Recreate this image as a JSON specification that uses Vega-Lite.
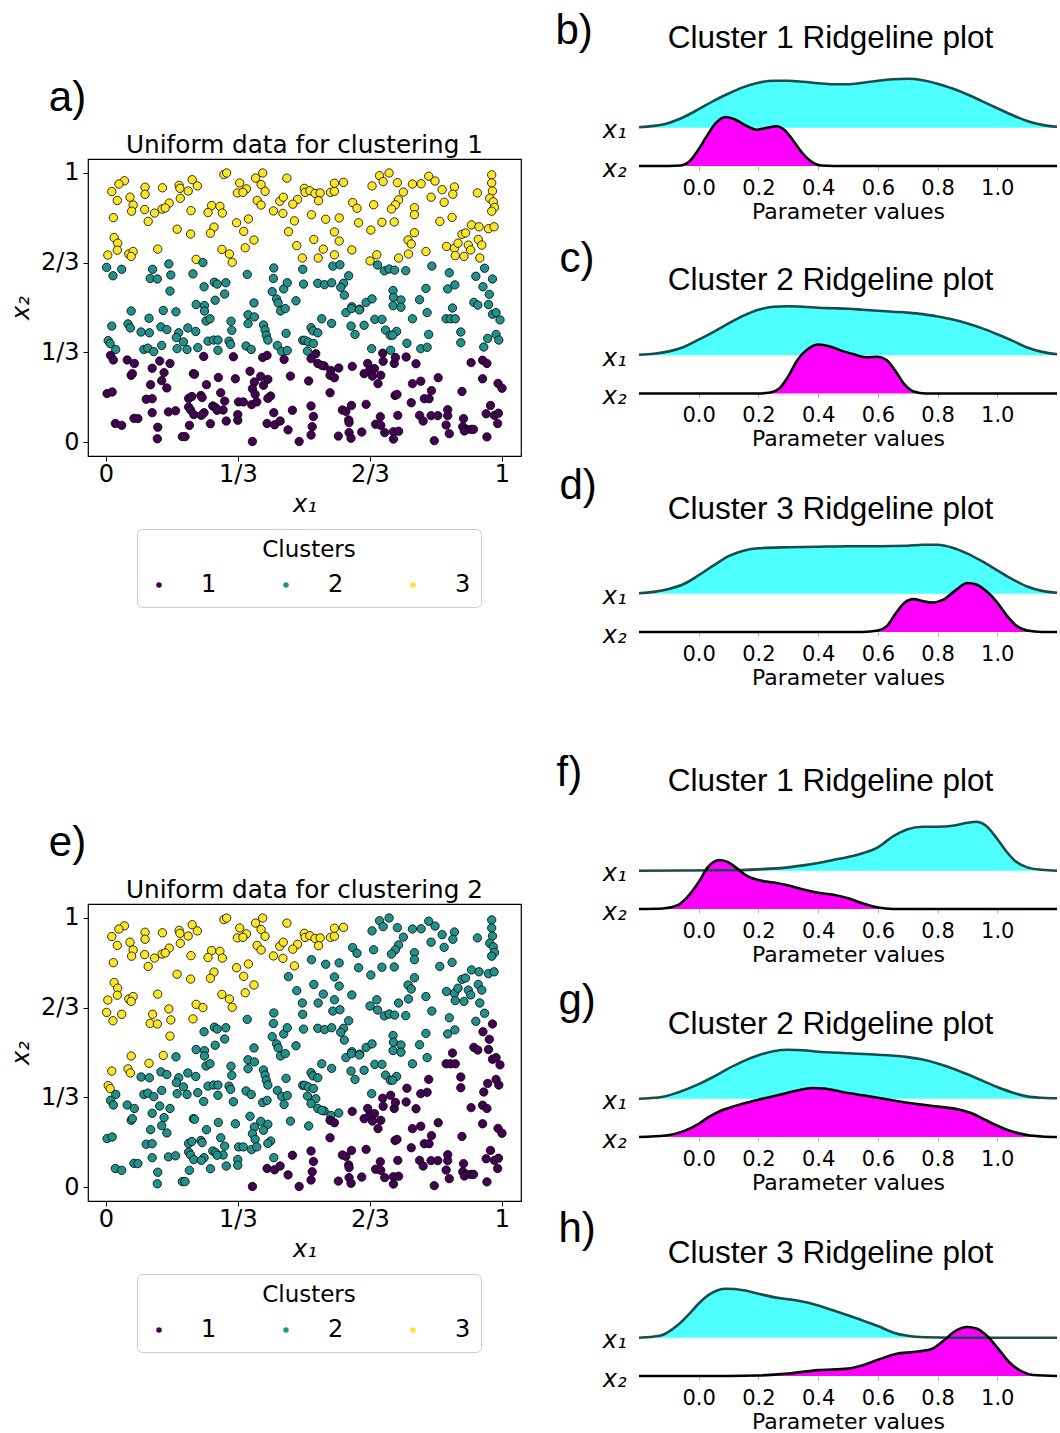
{
"$schema": "https://vega.github.io/schema/vega-lite/v6.json",
"background": "white",
"padding": {"left": 8, "top": 9, "right": 0, "bottom": 0},
"config": {
  "view": {"stroke": null},
  "font": "DejaVu Sans",
  "axis": {"grid": false, "labelColor": "black", "titleColor": "black", "labelFont": "DejaVu Sans", "titleFont": "DejaVu Sans", "titleFontWeight": "normal"},
  "title": {"color": "black", "fontWeight": "normal"},
  "legend": {"labelFont": "DejaVu Sans", "titleFont": "DejaVu Sans", "labelColor": "black", "titleColor": "black"}
},
"datasets": {
"pts": [
{"x1":0.298,"x2":0.994,"c1":3,"c2":3},{"x1":0.305,"x2":1.0,"c1":3,"c2":3},{"x1":0.396,"x2":1.0,"c1":3,"c2":3},{"x1":0.378,"x2":0.981,"c1":3,"c2":3},{"x1":0.457,"x2":0.981,"c1":3,"c2":3},{"x1":0.047,"x2":0.971,"c1":3,"c2":3},{"x1":0.033,"x2":0.959,"c1":3,"c2":3},{"x1":0.015,"x2":0.931,"c1":3,"c2":3},{"x1":0.099,"x2":0.947,"c1":3,"c2":3},{"x1":0.099,"x2":0.921,"c1":3,"c2":3},
{"x1":0.143,"x2":0.945,"c1":3,"c2":3},{"x1":0.185,"x2":0.954,"c1":3,"c2":3},{"x1":0.187,"x2":0.943,"c1":3,"c2":3},{"x1":0.218,"x2":0.975,"c1":3,"c2":3},{"x1":0.231,"x2":0.952,"c1":3,"c2":3},{"x1":0.208,"x2":0.933,"c1":3,"c2":3},{"x1":0.338,"x2":0.963,"c1":3,"c2":3},{"x1":0.355,"x2":0.941,"c1":3,"c2":3},{"x1":0.332,"x2":0.926,"c1":3,"c2":3},{"x1":0.346,"x2":0.928,"c1":3,"c2":3},
{"x1":0.392,"x2":0.957,"c1":3,"c2":3},{"x1":0.402,"x2":0.932,"c1":3,"c2":3},{"x1":0.501,"x2":0.943,"c1":3,"c2":3},{"x1":0.061,"x2":0.91,"c1":3,"c2":3},{"x1":0.029,"x2":0.898,"c1":3,"c2":3},{"x1":0.069,"x2":0.881,"c1":3,"c2":3},{"x1":0.065,"x2":0.858,"c1":3,"c2":3},{"x1":0.098,"x2":0.864,"c1":3,"c2":3},{"x1":0.16,"x2":0.888,"c1":3,"c2":3},{"x1":0.142,"x2":0.866,"c1":3,"c2":3},
{"x1":0.15,"x2":0.87,"c1":3,"c2":3},{"x1":0.123,"x2":0.851,"c1":3,"c2":3},{"x1":0.107,"x2":0.82,"c1":3,"c2":3},{"x1":0.188,"x2":0.906,"c1":3,"c2":3},{"x1":0.215,"x2":0.86,"c1":3,"c2":3},{"x1":0.267,"x2":0.879,"c1":3,"c2":3},{"x1":0.288,"x2":0.876,"c1":3,"c2":3},{"x1":0.258,"x2":0.853,"c1":3,"c2":3},{"x1":0.294,"x2":0.851,"c1":3,"c2":3},{"x1":0.382,"x2":0.898,"c1":3,"c2":3},
{"x1":0.392,"x2":0.881,"c1":3,"c2":3},{"x1":0.439,"x2":0.895,"c1":3,"c2":3},{"x1":0.448,"x2":0.91,"c1":3,"c2":3},{"x1":0.484,"x2":0.902,"c1":3,"c2":3},{"x1":0.472,"x2":0.884,"c1":3,"c2":3},{"x1":0.423,"x2":0.859,"c1":3,"c2":3},{"x1":0.447,"x2":0.85,"c1":3,"c2":3},{"x1":0.019,"x2":0.834,"c1":3,"c2":3},{"x1":0.476,"x2":0.822,"c1":3,"c2":3},{"x1":0.33,"x2":0.815,"c1":3,"c2":3},
{"x1":0.36,"x2":0.829,"c1":3,"c2":3},{"x1":0.273,"x2":0.799,"c1":3,"c2":3},{"x1":0.264,"x2":0.776,"c1":3,"c2":3},{"x1":0.18,"x2":0.791,"c1":3,"c2":3},{"x1":0.214,"x2":0.773,"c1":3,"c2":3},{"x1":0.348,"x2":0.783,"c1":3,"c2":3},{"x1":0.461,"x2":0.782,"c1":3,"c2":2},{"x1":0.374,"x2":0.751,"c1":3,"c2":3},{"x1":0.021,"x2":0.76,"c1":3,"c2":3},{"x1":0.03,"x2":0.739,"c1":3,"c2":3},
{"x1":0.029,"x2":0.713,"c1":3,"c2":3},{"x1":0.005,"x2":0.695,"c1":3,"c2":3},{"x1":0.058,"x2":0.699,"c1":3,"c2":3},{"x1":0.069,"x2":0.708,"c1":3,"c2":3},{"x1":0.064,"x2":0.69,"c1":3,"c2":3},{"x1":0.131,"x2":0.717,"c1":3,"c2":3},{"x1":0.293,"x2":0.716,"c1":3,"c2":3},{"x1":0.312,"x2":0.699,"c1":3,"c2":3},{"x1":0.319,"x2":0.668,"c1":3,"c2":3},{"x1":0.352,"x2":0.722,"c1":3,"c2":3},
{"x1":0.482,"x2":0.73,"c1":3,"c2":2},{"x1":0.496,"x2":0.684,"c1":3,"c2":2},{"x1":0.228,"x2":0.679,"c1":3,"c2":3},
{"x1":0.002,"x2":0.649,"c1":2,"c2":3},{"x1":0.018,"x2":0.618,"c1":2,"c2":3},{"x1":0.04,"x2":0.642,"c1":2,"c2":3},{"x1":0.118,"x2":0.642,"c1":2,"c2":3},{"x1":0.112,"x2":0.608,"c1":2,"c2":3},{"x1":0.13,"x2":0.606,"c1":2,"c2":3},{"x1":0.159,"x2":0.662,"c1":2,"c2":3},{"x1":0.164,"x2":0.621,"c1":2,"c2":3},{"x1":0.162,"x2":0.561,"c1":2,"c2":3},{"x1":0.22,"x2":0.625,"c1":2,"c2":3},
{"x1":0.245,"x2":0.667,"c1":2,"c2":3},{"x1":0.248,"x2":0.577,"c1":2,"c2":2},{"x1":0.274,"x2":0.594,"c1":2,"c2":2},{"x1":0.281,"x2":0.587,"c1":2,"c2":2},{"x1":0.303,"x2":0.592,"c1":2,"c2":2},{"x1":0.3,"x2":0.55,"c1":2,"c2":2},{"x1":0.276,"x2":0.527,"c1":2,"c2":2},{"x1":0.357,"x2":0.623,"c1":2,"c2":2},{"x1":0.424,"x2":0.647,"c1":2,"c2":2},{"x1":0.423,"x2":0.608,"c1":2,"c2":2},
{"x1":0.449,"x2":0.569,"c1":2,"c2":2},{"x1":0.458,"x2":0.592,"c1":2,"c2":2},{"x1":0.42,"x2":0.559,"c1":2,"c2":2},{"x1":0.431,"x2":0.532,"c1":2,"c2":2},{"x1":0.435,"x2":0.517,"c1":2,"c2":2},{"x1":0.48,"x2":0.525,"c1":2,"c2":2},{"x1":0.497,"x2":0.642,"c1":2,"c2":2},{"x1":0.499,"x2":0.587,"c1":2,"c2":2},{"x1":0.374,"x2":0.517,"c1":2,"c2":2},{"x1":0.228,"x2":0.511,"c1":2,"c2":2},
{"x1":0.249,"x2":0.507,"c1":2,"c2":2},
{"x1":0.064,"x2":0.487,"c1":2,"c2":3},{"x1":0.145,"x2":0.489,"c1":2,"c2":3},{"x1":0.177,"x2":0.484,"c1":2,"c2":2},{"x1":0.249,"x2":0.487,"c1":2,"c2":2},{"x1":0.253,"x2":0.45,"c1":2,"c2":2},{"x1":0.263,"x2":0.458,"c1":2,"c2":2},{"x1":0.109,"x2":0.46,"c1":2,"c2":3},{"x1":0.015,"x2":0.431,"c1":2,"c2":3},{"x1":0.056,"x2":0.439,"c1":2,"c2":3},{"x1":0.062,"x2":0.424,"c1":2,"c2":3},
{"x1":0.089,"x2":0.409,"c1":2,"c2":2},{"x1":0.11,"x2":0.406,"c1":2,"c2":2},{"x1":0.139,"x2":0.428,"c1":2,"c2":2},{"x1":0.154,"x2":0.418,"c1":2,"c2":2},{"x1":0.184,"x2":0.406,"c1":2,"c2":2},{"x1":0.178,"x2":0.388,"c1":2,"c2":2},{"x1":0.18,"x2":0.347,"c1":2,"c2":2},{"x1":0.207,"x2":0.424,"c1":2,"c2":2},{"x1":0.227,"x2":0.411,"c1":2,"c2":2},{"x1":0.196,"x2":0.372,"c1":2,"c2":2},
{"x1":0.205,"x2":0.344,"c1":2,"c2":2},{"x1":0.232,"x2":0.351,"c1":2,"c2":2},{"x1":0.006,"x2":0.377,"c1":2,"c2":3},{"x1":0.011,"x2":0.366,"c1":2,"c2":3},{"x1":0.025,"x2":0.344,"c1":2,"c2":2},{"x1":0.096,"x2":0.344,"c1":2,"c2":2},{"x1":0.106,"x2":0.349,"c1":2,"c2":2},{"x1":0.121,"x2":0.336,"c1":2,"c2":2},{"x1":0.141,"x2":0.359,"c1":2,"c2":2},{"x1":0.258,"x2":0.375,"c1":2,"c2":2},
{"x1":0.272,"x2":0.379,"c1":2,"c2":2},{"x1":0.283,"x2":0.379,"c1":2,"c2":2},{"x1":0.283,"x2":0.341,"c1":2,"c2":2},{"x1":0.311,"x2":0.375,"c1":2,"c2":2},{"x1":0.315,"x2":0.363,"c1":2,"c2":2},{"x1":0.318,"x2":0.415,"c1":2,"c2":2},{"x1":0.316,"x2":0.449,"c1":2,"c2":2},{"x1":0.359,"x2":0.473,"c1":2,"c2":2},{"x1":0.375,"x2":0.465,"c1":2,"c2":2},{"x1":0.359,"x2":0.44,"c1":2,"c2":2},
{"x1":0.398,"x2":0.435,"c1":2,"c2":2},{"x1":0.402,"x2":0.416,"c1":2,"c2":2},{"x1":0.405,"x2":0.397,"c1":2,"c2":2},{"x1":0.409,"x2":0.379,"c1":2,"c2":2},{"x1":0.354,"x2":0.357,"c1":2,"c2":2},{"x1":0.367,"x2":0.344,"c1":2,"c2":2},{"x1":0.433,"x2":0.359,"c1":2,"c2":2},{"x1":0.444,"x2":0.337,"c1":2,"c2":2},{"x1":0.458,"x2":0.34,"c1":2,"c2":2},{"x1":0.455,"x2":0.404,"c1":2,"c2":2},
{"x1":0.497,"x2":0.378,"c1":2,"c2":2},{"x1":0.441,"x2":0.487,"c1":2,"c2":2},{"x1":0.453,"x2":0.496,"c1":2,"c2":2},
{"x1":0.012,"x2":0.322,"c1":1,"c2":2},{"x1":0.019,"x2":0.305,"c1":1,"c2":2},{"x1":0.054,"x2":0.305,"c1":1,"c2":2},{"x1":0.072,"x2":0.292,"c1":1,"c2":2},{"x1":0.117,"x2":0.274,"c1":1,"c2":2},{"x1":0.136,"x2":0.301,"c1":1,"c2":2},{"x1":0.162,"x2":0.292,"c1":1,"c2":2},{"x1":0.064,"x2":0.248,"c1":1,"c2":2},{"x1":0.067,"x2":0.254,"c1":1,"c2":2},{"x1":0.147,"x2":0.258,"c1":1,"c2":2},
{"x1":0.141,"x2":0.228,"c1":1,"c2":2},{"x1":0.154,"x2":0.201,"c1":1,"c2":2},{"x1":0.113,"x2":0.213,"c1":1,"c2":2},{"x1":0.221,"x2":0.254,"c1":1,"c2":2},{"x1":0.224,"x2":0.252,"c1":1,"c2":2},{"x1":0.247,"x2":0.318,"c1":1,"c2":2},{"x1":0.322,"x2":0.317,"c1":1,"c2":2},{"x1":0.284,"x2":0.24,"c1":1,"c2":2},{"x1":0.327,"x2":0.235,"c1":1,"c2":2},{"x1":0.254,"x2":0.213,"c1":1,"c2":2},
{"x1":0.396,"x2":0.314,"c1":1,"c2":2},{"x1":0.407,"x2":0.322,"c1":1,"c2":2},{"x1":0.45,"x2":0.307,"c1":1,"c2":2},{"x1":0.364,"x2":0.263,"c1":1,"c2":2},{"x1":0.375,"x2":0.223,"c1":1,"c2":2},{"x1":0.391,"x2":0.244,"c1":1,"c2":2},{"x1":0.409,"x2":0.233,"c1":1,"c2":2},{"x1":0.398,"x2":0.211,"c1":1,"c2":2},{"x1":0.466,"x2":0.245,"c1":1,"c2":2},{"x1":0.003,"x2":0.18,"c1":1,"c2":2},
{"x1":0.016,"x2":0.186,"c1":1,"c2":2},{"x1":0.102,"x2":0.159,"c1":1,"c2":2},{"x1":0.117,"x2":0.161,"c1":1,"c2":2},{"x1":0.209,"x2":0.162,"c1":1,"c2":2},{"x1":0.217,"x2":0.169,"c1":1,"c2":2},{"x1":0.24,"x2":0.173,"c1":1,"c2":2},{"x1":0.243,"x2":0.165,"c1":1,"c2":2},{"x1":0.29,"x2":0.183,"c1":1,"c2":2},{"x1":0.37,"x2":0.198,"c1":1,"c2":2},{"x1":0.377,"x2":0.177,"c1":1,"c2":2},
{"x1":0.416,"x2":0.171,"c1":1,"c2":2},{"x1":0.409,"x2":0.162,"c1":1,"c2":2},{"x1":0.3,"x2":0.152,"c1":1,"c2":2},{"x1":0.335,"x2":0.149,"c1":1,"c2":2},{"x1":0.347,"x2":0.149,"c1":1,"c2":2},{"x1":0.209,"x2":0.13,"c1":1,"c2":2},{"x1":0.214,"x2":0.119,"c1":1,"c2":2},{"x1":0.222,"x2":0.102,"c1":1,"c2":2},{"x1":0.248,"x2":0.109,"c1":1,"c2":2},{"x1":0.241,"x2":0.099,"c1":1,"c2":2},
{"x1":0.27,"x2":0.134,"c1":1,"c2":2},{"x1":0.277,"x2":0.128,"c1":1,"c2":2},{"x1":0.296,"x2":0.119,"c1":1,"c2":2},{"x1":0.281,"x2":0.118,"c1":1,"c2":2},{"x1":0.158,"x2":0.112,"c1":1,"c2":2},{"x1":0.176,"x2":0.116,"c1":1,"c2":2},{"x1":0.117,"x2":0.109,"c1":1,"c2":2},{"x1":0.368,"x2":0.139,"c1":1,"c2":2},{"x1":0.381,"x2":0.149,"c1":1,"c2":2},{"x1":0.333,"x2":0.102,"c1":1,"c2":2},
{"x1":0.333,"x2":0.081,"c1":1,"c2":2},{"x1":0.471,"x2":0.118,"c1":1,"c2":1},{"x1":0.424,"x2":0.109,"c1":1,"c2":2},{"x1":0.024,"x2":0.069,"c1":1,"c2":2},{"x1":0.04,"x2":0.062,"c1":1,"c2":2},{"x1":0.071,"x2":0.088,"c1":1,"c2":2},{"x1":0.081,"x2":0.087,"c1":1,"c2":2},{"x1":0.131,"x2":0.055,"c1":1,"c2":2},{"x1":0.13,"x2":0.012,"c1":1,"c2":2},{"x1":0.193,"x2":0.02,"c1":1,"c2":2},
{"x1":0.2,"x2":0.02,"c1":1,"c2":2},{"x1":0.211,"x2":0.062,"c1":1,"c2":2},{"x1":0.264,"x2":0.068,"c1":1,"c2":2},{"x1":0.304,"x2":0.078,"c1":1,"c2":2},{"x1":0.407,"x2":0.069,"c1":1,"c2":1},{"x1":0.426,"x2":0.064,"c1":1,"c2":1},{"x1":0.44,"x2":0.078,"c1":1,"c2":1},{"x1":0.46,"x2":0.045,"c1":1,"c2":1},{"x1":0.37,"x2":0.002,"c1":1,"c2":1},{"x1":0.488,"x2":0.002,"c1":1,"c2":1},
{"x1":0.503,"x2":0.928,"c1":3,"c2":3},{"x1":0.515,"x2":0.934,"c1":3,"c2":3},{"x1":0.528,"x2":0.924,"c1":3,"c2":3},{"x1":0.541,"x2":0.926,"c1":3,"c2":3},{"x1":0.537,"x2":0.897,"c1":3,"c2":3},{"x1":0.567,"x2":0.928,"c1":3,"c2":3},{"x1":0.577,"x2":0.932,"c1":3,"c2":3},{"x1":0.577,"x2":0.962,"c1":3,"c2":3},{"x1":0.6,"x2":0.965,"c1":3,"c2":3},{"x1":0.691,"x2":0.99,"c1":3,"c2":2},
{"x1":0.7,"x2":0.968,"c1":3,"c2":2},{"x1":0.715,"x2":1.0,"c1":3,"c2":2},{"x1":0.672,"x2":0.952,"c1":3,"c2":2},{"x1":0.736,"x2":0.964,"c1":3,"c2":2},{"x1":0.815,"x2":0.988,"c1":3,"c2":2},{"x1":0.831,"x2":0.97,"c1":3,"c2":2},{"x1":0.774,"x2":0.959,"c1":3,"c2":2},{"x1":0.796,"x2":0.96,"c1":3,"c2":2},{"x1":0.623,"x2":0.89,"c1":3,"c2":2},{"x1":0.634,"x2":0.869,"c1":3,"c2":2},
{"x1":0.676,"x2":0.882,"c1":3,"c2":2},{"x1":0.751,"x2":0.929,"c1":3,"c2":2},{"x1":0.739,"x2":0.9,"c1":3,"c2":2},{"x1":0.731,"x2":0.882,"c1":3,"c2":2},{"x1":0.721,"x2":0.866,"c1":3,"c2":2},{"x1":0.779,"x2":0.871,"c1":3,"c2":2},{"x1":0.779,"x2":0.845,"c1":3,"c2":2},{"x1":0.821,"x2":0.91,"c1":3,"c2":2},{"x1":0.849,"x2":0.938,"c1":3,"c2":2},{"x1":0.88,"x2":0.948,"c1":3,"c2":2},
{"x1":0.876,"x2":0.921,"c1":3,"c2":2},{"x1":0.854,"x2":0.891,"c1":3,"c2":2},{"x1":0.938,"x2":0.926,"c1":3,"c2":2},{"x1":0.974,"x2":0.993,"c1":3,"c2":2},{"x1":0.974,"x2":0.963,"c1":3,"c2":2},{"x1":0.976,"x2":0.933,"c1":3,"c2":2},{"x1":0.969,"x2":0.906,"c1":3,"c2":2},{"x1":0.978,"x2":0.893,"c1":3,"c2":2},{"x1":0.981,"x2":0.872,"c1":3,"c2":2},{"x1":0.974,"x2":0.858,"c1":3,"c2":2},
{"x1":0.519,"x2":0.845,"c1":3,"c2":2},{"x1":0.555,"x2":0.828,"c1":3,"c2":2},{"x1":0.589,"x2":0.833,"c1":3,"c2":2},{"x1":0.638,"x2":0.815,"c1":3,"c2":2},{"x1":0.669,"x2":0.788,"c1":3,"c2":2},{"x1":0.697,"x2":0.817,"c1":3,"c2":2},{"x1":0.728,"x2":0.818,"c1":3,"c2":2},{"x1":0.577,"x2":0.781,"c1":3,"c2":2},{"x1":0.589,"x2":0.747,"c1":3,"c2":2},{"x1":0.525,"x2":0.753,"c1":3,"c2":2},
{"x1":0.549,"x2":0.717,"c1":3,"c2":2},{"x1":0.536,"x2":0.684,"c1":3,"c2":2},{"x1":0.577,"x2":0.696,"c1":3,"c2":2},{"x1":0.621,"x2":0.714,"c1":3,"c2":2},{"x1":0.843,"x2":0.82,"c1":3,"c2":2},{"x1":0.874,"x2":0.835,"c1":3,"c2":2},{"x1":0.779,"x2":0.778,"c1":3,"c2":2},{"x1":0.763,"x2":0.751,"c1":3,"c2":2},{"x1":0.771,"x2":0.736,"c1":3,"c2":2},{"x1":0.764,"x2":0.699,"c1":3,"c2":2},
{"x1":0.808,"x2":0.708,"c1":3,"c2":2},{"x1":0.684,"x2":0.696,"c1":3,"c2":2},{"x1":0.739,"x2":0.684,"c1":3,"c2":2},{"x1":0.667,"x2":0.673,"c1":3,"c2":2},{"x1":0.86,"x2":0.727,"c1":3,"c2":2},{"x1":0.88,"x2":0.72,"c1":3,"c2":2},{"x1":0.889,"x2":0.739,"c1":3,"c2":2},{"x1":0.899,"x2":0.772,"c1":3,"c2":2},{"x1":0.908,"x2":0.777,"c1":3,"c2":2},{"x1":0.915,"x2":0.732,"c1":3,"c2":2},
{"x1":0.921,"x2":0.714,"c1":3,"c2":2},{"x1":0.882,"x2":0.693,"c1":3,"c2":2},{"x1":0.904,"x2":0.69,"c1":3,"c2":2},{"x1":0.923,"x2":0.807,"c1":3,"c2":2},{"x1":0.942,"x2":0.8,"c1":3,"c2":2},{"x1":0.966,"x2":0.793,"c1":3,"c2":2},{"x1":0.98,"x2":0.8,"c1":3,"c2":2},{"x1":0.94,"x2":0.753,"c1":3,"c2":2},{"x1":0.949,"x2":0.732,"c1":3,"c2":2},{"x1":0.944,"x2":0.684,"c1":3,"c2":2},
{"x1":0.573,"x2":0.654,"c1":2,"c2":2},{"x1":0.591,"x2":0.659,"c1":2,"c2":2},{"x1":0.686,"x2":0.658,"c1":2,"c2":2},{"x1":0.703,"x2":0.636,"c1":2,"c2":2},{"x1":0.715,"x2":0.643,"c1":2,"c2":2},{"x1":0.729,"x2":0.639,"c1":2,"c2":2},{"x1":0.757,"x2":0.637,"c1":2,"c2":2},{"x1":0.823,"x2":0.654,"c1":2,"c2":2},{"x1":0.613,"x2":0.618,"c1":2,"c2":2},{"x1":0.6,"x2":0.59,"c1":2,"c2":2},
{"x1":0.593,"x2":0.575,"c1":2,"c2":2},{"x1":0.602,"x2":0.546,"c1":2,"c2":2},{"x1":0.535,"x2":0.59,"c1":2,"c2":2},{"x1":0.552,"x2":0.585,"c1":2,"c2":2},{"x1":0.57,"x2":0.592,"c1":2,"c2":2},{"x1":0.867,"x2":0.629,"c1":2,"c2":2},{"x1":0.863,"x2":0.569,"c1":2,"c2":2},{"x1":0.881,"x2":0.584,"c1":2,"c2":2},{"x1":0.934,"x2":0.616,"c1":2,"c2":2},{"x1":0.956,"x2":0.646,"c1":2,"c2":2},
{"x1":0.976,"x2":0.606,"c1":2,"c2":1},{"x1":0.952,"x2":0.577,"c1":2,"c2":1},{"x1":0.968,"x2":0.549,"c1":2,"c2":1},{"x1":0.808,"x2":0.571,"c1":2,"c2":2},{"x1":0.792,"x2":0.529,"c1":2,"c2":2},{"x1":0.725,"x2":0.563,"c1":2,"c2":2},{"x1":0.726,"x2":0.538,"c1":2,"c2":2},{"x1":0.745,"x2":0.528,"c1":2,"c2":2},{"x1":0.657,"x2":0.519,"c1":2,"c2":2},{"x1":0.672,"x2":0.532,"c1":2,"c2":2},
{"x1":0.621,"x2":0.503,"c1":2,"c2":2},{"x1":0.641,"x2":0.494,"c1":2,"c2":2},{"x1":0.725,"x2":0.507,"c1":2,"c2":2},{"x1":0.745,"x2":0.501,"c1":2,"c2":2},{"x1":0.875,"x2":0.498,"c1":2,"c2":1},{"x1":0.929,"x2":0.519,"c1":2,"c2":1},{"x1":0.939,"x2":0.509,"c1":2,"c2":1},{"x1":0.966,"x2":0.511,"c1":2,"c2":1},
{"x1":0.606,"x2":0.481,"c1":2,"c2":2},{"x1":0.62,"x2":0.496,"c1":2,"c2":2},{"x1":0.64,"x2":0.491,"c1":2,"c2":2},{"x1":0.811,"x2":0.481,"c1":2,"c2":2},{"x1":0.976,"x2":0.475,"c1":2,"c2":1},{"x1":0.985,"x2":0.481,"c1":2,"c2":1},{"x1":0.995,"x2":0.454,"c1":2,"c2":1},{"x1":0.859,"x2":0.458,"c1":2,"c2":1},{"x1":0.87,"x2":0.458,"c1":2,"c2":1},{"x1":0.882,"x2":0.458,"c1":2,"c2":1},
{"x1":0.774,"x2":0.458,"c1":2,"c2":2},{"x1":0.679,"x2":0.456,"c1":2,"c2":2},{"x1":0.697,"x2":0.456,"c1":2,"c2":2},{"x1":0.545,"x2":0.458,"c1":2,"c2":2},{"x1":0.57,"x2":0.441,"c1":2,"c2":2},{"x1":0.518,"x2":0.425,"c1":2,"c2":2},{"x1":0.523,"x2":0.413,"c1":2,"c2":2},{"x1":0.535,"x2":0.406,"c1":2,"c2":2},{"x1":0.619,"x2":0.431,"c1":2,"c2":2},{"x1":0.629,"x2":0.4,"c1":2,"c2":2},
{"x1":0.652,"x2":0.434,"c1":2,"c2":2},{"x1":0.706,"x2":0.416,"c1":2,"c2":2},{"x1":0.718,"x2":0.397,"c1":2,"c2":2},{"x1":0.734,"x2":0.411,"c1":2,"c2":2},{"x1":0.724,"x2":0.397,"c1":2,"c2":2},{"x1":0.815,"x2":0.4,"c1":2,"c2":1},{"x1":0.896,"x2":0.409,"c1":2,"c2":1},{"x1":0.896,"x2":0.369,"c1":2,"c2":1},{"x1":0.964,"x2":0.385,"c1":2,"c2":1},{"x1":0.985,"x2":0.4,"c1":2,"c2":1},
{"x1":0.992,"x2":0.379,"c1":2,"c2":1},{"x1":0.954,"x2":0.353,"c1":2,"c2":1},{"x1":0.502,"x2":0.378,"c1":2,"c2":2},{"x1":0.511,"x2":0.372,"c1":2,"c2":2},{"x1":0.524,"x2":0.366,"c1":2,"c2":2},{"x1":0.509,"x2":0.338,"c1":2,"c2":2},{"x1":0.671,"x2":0.347,"c1":2,"c2":2},{"x1":0.719,"x2":0.341,"c1":2,"c2":1},{"x1":0.76,"x2":0.367,"c1":2,"c2":1},{"x1":0.795,"x2":0.347,"c1":2,"c2":1},
{"x1":0.811,"x2":0.352,"c1":2,"c2":1},
{"x1":0.53,"x2":0.328,"c1":1,"c2":2},{"x1":0.518,"x2":0.31,"c1":1,"c2":2},{"x1":0.535,"x2":0.292,"c1":1,"c2":2},{"x1":0.551,"x2":0.283,"c1":1,"c2":2},{"x1":0.545,"x2":0.285,"c1":1,"c2":2},{"x1":0.568,"x2":0.266,"c1":1,"c2":2},{"x1":0.566,"x2":0.248,"c1":1,"c2":1},{"x1":0.577,"x2":0.239,"c1":1,"c2":1},{"x1":0.588,"x2":0.275,"c1":1,"c2":2},{"x1":0.622,"x2":0.281,"c1":1,"c2":1},
{"x1":0.661,"x2":0.292,"c1":1,"c2":1},{"x1":0.652,"x2":0.254,"c1":1,"c2":1},{"x1":0.665,"x2":0.264,"c1":1,"c2":1},{"x1":0.678,"x2":0.273,"c1":1,"c2":1},{"x1":0.673,"x2":0.245,"c1":1,"c2":1},{"x1":0.694,"x2":0.248,"c1":1,"c2":1},{"x1":0.687,"x2":0.217,"c1":1,"c2":1},{"x1":0.699,"x2":0.33,"c1":1,"c2":1},{"x1":0.7,"x2":0.3,"c1":1,"c2":1},{"x1":0.728,"x2":0.292,"c1":1,"c2":1},
{"x1":0.731,"x2":0.314,"c1":1,"c2":1},{"x1":0.758,"x2":0.316,"c1":1,"c2":1},{"x1":0.783,"x2":0.291,"c1":1,"c2":1},{"x1":0.512,"x2":0.227,"c1":1,"c2":2},{"x1":0.566,"x2":0.183,"c1":1,"c2":1},{"x1":0.774,"x2":0.217,"c1":1,"c2":1},{"x1":0.795,"x2":0.226,"c1":1,"c2":1},{"x1":0.839,"x2":0.239,"c1":1,"c2":1},{"x1":0.73,"x2":0.173,"c1":1,"c2":1},{"x1":0.735,"x2":0.177,"c1":1,"c2":1},
{"x1":0.822,"x2":0.191,"c1":1,"c2":1},{"x1":0.804,"x2":0.161,"c1":1,"c2":1},{"x1":0.816,"x2":0.161,"c1":1,"c2":1},{"x1":0.771,"x2":0.146,"c1":1,"c2":1},{"x1":0.899,"x2":0.188,"c1":1,"c2":1},{"x1":0.922,"x2":0.295,"c1":1,"c2":1},{"x1":0.951,"x2":0.304,"c1":1,"c2":1},{"x1":0.962,"x2":0.292,"c1":1,"c2":1},{"x1":0.951,"x2":0.235,"c1":1,"c2":1},{"x1":0.99,"x2":0.218,"c1":1,"c2":1},
{"x1":1.0,"x2":0.2,"c1":1,"c2":1},{"x1":0.518,"x2":0.134,"c1":1,"c2":1},{"x1":0.524,"x2":0.095,"c1":1,"c2":1},{"x1":0.521,"x2":0.057,"c1":1,"c2":1},{"x1":0.518,"x2":0.026,"c1":1,"c2":1},{"x1":0.597,"x2":0.119,"c1":1,"c2":1},{"x1":0.606,"x2":0.114,"c1":1,"c2":1},{"x1":0.62,"x2":0.136,"c1":1,"c2":1},{"x1":0.657,"x2":0.14,"c1":1,"c2":1},{"x1":0.613,"x2":0.082,"c1":1,"c2":1},
{"x1":0.614,"x2":0.072,"c1":1,"c2":1},{"x1":0.614,"x2":0.035,"c1":1,"c2":1},{"x1":0.619,"x2":0.014,"c1":1,"c2":1},{"x1":0.587,"x2":0.022,"c1":1,"c2":1},{"x1":0.646,"x2":0.037,"c1":1,"c2":1},{"x1":0.693,"x2":0.094,"c1":1,"c2":1},{"x1":0.681,"x2":0.066,"c1":1,"c2":1},{"x1":0.694,"x2":0.062,"c1":1,"c2":1},{"x1":0.704,"x2":0.035,"c1":1,"c2":1},{"x1":0.726,"x2":0.038,"c1":1,"c2":1},
{"x1":0.739,"x2":0.04,"c1":1,"c2":1},{"x1":0.726,"x2":0.011,"c1":1,"c2":1},{"x1":0.737,"x2":0.099,"c1":1,"c2":1},{"x1":0.792,"x2":0.099,"c1":1,"c2":1},{"x1":0.801,"x2":0.078,"c1":1,"c2":1},{"x1":0.821,"x2":0.098,"c1":1,"c2":1},{"x1":0.838,"x2":0.098,"c1":1,"c2":1},{"x1":0.863,"x2":0.12,"c1":1,"c2":1},{"x1":0.863,"x2":0.098,"c1":1,"c2":1},{"x1":0.859,"x2":0.063,"c1":1,"c2":1},
{"x1":0.867,"x2":0.031,"c1":1,"c2":1},{"x1":0.903,"x2":0.087,"c1":1,"c2":1},{"x1":0.901,"x2":0.057,"c1":1,"c2":1},{"x1":0.911,"x2":0.047,"c1":1,"c2":1},{"x1":0.905,"x2":0.041,"c1":1,"c2":1},{"x1":0.922,"x2":0.047,"c1":1,"c2":1},{"x1":0.928,"x2":0.047,"c1":1,"c2":1},{"x1":0.829,"x2":0.005,"c1":1,"c2":1},{"x1":0.971,"x2":0.136,"c1":1,"c2":1},{"x1":0.96,"x2":0.105,"c1":1,"c2":1},
{"x1":0.981,"x2":0.099,"c1":1,"c2":1},{"x1":0.991,"x2":0.107,"c1":1,"c2":1},{"x1":0.989,"x2":0.069,"c1":1,"c2":1},{"x1":0.962,"x2":0.019,"c1":1,"c2":1}
],
"ridge": [
{"p":"b","v":"x1","x":-0.2,"h":0.01},{"p":"b","v":"x1","x":-0.15,"h":0.04},{"p":"b","v":"x1","x":-0.1,"h":0.1},{"p":"b","v":"x1","x":-0.05,"h":0.22},{"p":"b","v":"x1","x":0,"h":0.38},{"p":"b","v":"x1","x":0.05,"h":0.55},{"p":"b","v":"x1","x":0.1,"h":0.7},{"p":"b","v":"x1","x":0.15,"h":0.83},{"p":"b","v":"x1","x":0.2,"h":0.92},{"p":"b","v":"x1","x":0.25,"h":0.96},{"p":"b","v":"x1","x":0.3,"h":0.96},{"p":"b","v":"x1","x":0.35,"h":0.94},{"p":"b","v":"x1","x":0.4,"h":0.91},{"p":"b","v":"x1","x":0.45,"h":0.89},{"p":"b","v":"x1","x":0.5,"h":0.89},{"p":"b","v":"x1","x":0.55,"h":0.92},{"p":"b","v":"x1","x":0.6,"h":0.96},{"p":"b","v":"x1","x":0.65,"h":0.99},{"p":"b","v":"x1","x":0.7,"h":1.0},{"p":"b","v":"x1","x":0.75,"h":0.97},{"p":"b","v":"x1","x":0.8,"h":0.9},{"p":"b","v":"x1","x":0.85,"h":0.8},{"p":"b","v":"x1","x":0.9,"h":0.68},{"p":"b","v":"x1","x":0.95,"h":0.54},{"p":"b","v":"x1","x":1.0,"h":0.4},{"p":"b","v":"x1","x":1.05,"h":0.26},{"p":"b","v":"x1","x":1.1,"h":0.14},{"p":"b","v":"x1","x":1.15,"h":0.06},{"p":"b","v":"x1","x":1.2,"h":0.02},
{"p":"b","v":"x2","x":-0.2,"h":0},{"p":"b","v":"x2","x":-0.1,"h":0},{"p":"b","v":"x2","x":-0.06,"h":0.01},{"p":"b","v":"x2","x":-0.03,"h":0.1},{"p":"b","v":"x2","x":0,"h":0.34},{"p":"b","v":"x2","x":0.03,"h":0.64},{"p":"b","v":"x2","x":0.055,"h":0.86},{"p":"b","v":"x2","x":0.09,"h":1.0},{"p":"b","v":"x2","x":0.125,"h":0.94},{"p":"b","v":"x2","x":0.16,"h":0.82},{"p":"b","v":"x2","x":0.195,"h":0.74},{"p":"b","v":"x2","x":0.23,"h":0.78},{"p":"b","v":"x2","x":0.26,"h":0.81},{"p":"b","v":"x2","x":0.29,"h":0.72},{"p":"b","v":"x2","x":0.315,"h":0.53},{"p":"b","v":"x2","x":0.345,"h":0.28},{"p":"b","v":"x2","x":0.375,"h":0.1},{"p":"b","v":"x2","x":0.41,"h":0.01},{"p":"b","v":"x2","x":0.45,"h":0},{"p":"b","v":"x2","x":1.2,"h":0},
{"p":"c","v":"x1","x":-0.2,"h":0.01},{"p":"c","v":"x1","x":-0.15,"h":0.03},{"p":"c","v":"x1","x":-0.1,"h":0.08},{"p":"c","v":"x1","x":-0.05,"h":0.17},{"p":"c","v":"x1","x":0,"h":0.32},{"p":"c","v":"x1","x":0.05,"h":0.48},{"p":"c","v":"x1","x":0.1,"h":0.65},{"p":"c","v":"x1","x":0.15,"h":0.81},{"p":"c","v":"x1","x":0.2,"h":0.93},{"p":"c","v":"x1","x":0.25,"h":0.99},{"p":"c","v":"x1","x":0.3,"h":1.0},{"p":"c","v":"x1","x":0.35,"h":0.99},{"p":"c","v":"x1","x":0.4,"h":0.97},{"p":"c","v":"x1","x":0.45,"h":0.96},{"p":"c","v":"x1","x":0.5,"h":0.95},{"p":"c","v":"x1","x":0.55,"h":0.93},{"p":"c","v":"x1","x":0.6,"h":0.91},{"p":"c","v":"x1","x":0.65,"h":0.89},{"p":"c","v":"x1","x":0.7,"h":0.87},{"p":"c","v":"x1","x":0.75,"h":0.84},{"p":"c","v":"x1","x":0.8,"h":0.79},{"p":"c","v":"x1","x":0.85,"h":0.73},{"p":"c","v":"x1","x":0.9,"h":0.65},{"p":"c","v":"x1","x":0.95,"h":0.55},{"p":"c","v":"x1","x":1.0,"h":0.43},{"p":"c","v":"x1","x":1.05,"h":0.3},{"p":"c","v":"x1","x":1.1,"h":0.16},{"p":"c","v":"x1","x":1.15,"h":0.07},{"p":"c","v":"x1","x":1.2,"h":0.02},
{"p":"c","v":"x2","x":-0.2,"h":0},{"p":"c","v":"x2","x":0.2,"h":0},{"p":"c","v":"x2","x":0.24,"h":0.02},{"p":"c","v":"x2","x":0.27,"h":0.1},{"p":"c","v":"x2","x":0.3,"h":0.35},{"p":"c","v":"x2","x":0.33,"h":0.68},{"p":"c","v":"x2","x":0.36,"h":0.88},{"p":"c","v":"x2","x":0.4,"h":1.0},{"p":"c","v":"x2","x":0.44,"h":0.96},{"p":"c","v":"x2","x":0.48,"h":0.87},{"p":"c","v":"x2","x":0.52,"h":0.8},{"p":"c","v":"x2","x":0.56,"h":0.74},{"p":"c","v":"x2","x":0.6,"h":0.75},{"p":"c","v":"x2","x":0.63,"h":0.68},{"p":"c","v":"x2","x":0.66,"h":0.45},{"p":"c","v":"x2","x":0.69,"h":0.18},{"p":"c","v":"x2","x":0.72,"h":0.04},{"p":"c","v":"x2","x":0.76,"h":0},{"p":"c","v":"x2","x":1.2,"h":0},
{"p":"d","v":"x1","x":-0.2,"h":0.01},{"p":"d","v":"x1","x":-0.15,"h":0.04},{"p":"d","v":"x1","x":-0.1,"h":0.1},{"p":"d","v":"x1","x":-0.05,"h":0.2},{"p":"d","v":"x1","x":0,"h":0.38},{"p":"d","v":"x1","x":0.05,"h":0.58},{"p":"d","v":"x1","x":0.1,"h":0.77},{"p":"d","v":"x1","x":0.15,"h":0.88},{"p":"d","v":"x1","x":0.2,"h":0.93},{"p":"d","v":"x1","x":0.3,"h":0.95},{"p":"d","v":"x1","x":0.4,"h":0.96},{"p":"d","v":"x1","x":0.5,"h":0.97},{"p":"d","v":"x1","x":0.6,"h":0.97},{"p":"d","v":"x1","x":0.7,"h":0.98},{"p":"d","v":"x1","x":0.75,"h":1.0},{"p":"d","v":"x1","x":0.8,"h":1.0},{"p":"d","v":"x1","x":0.85,"h":0.94},{"p":"d","v":"x1","x":0.9,"h":0.82},{"p":"d","v":"x1","x":0.95,"h":0.66},{"p":"d","v":"x1","x":1.0,"h":0.48},{"p":"d","v":"x1","x":1.05,"h":0.3},{"p":"d","v":"x1","x":1.1,"h":0.15},{"p":"d","v":"x1","x":1.15,"h":0.06},{"p":"d","v":"x1","x":1.2,"h":0.02},
{"p":"d","v":"x2","x":-0.2,"h":0},{"p":"d","v":"x2","x":0.55,"h":0},{"p":"d","v":"x2","x":0.6,"h":0.03},{"p":"d","v":"x2","x":0.63,"h":0.12},{"p":"d","v":"x2","x":0.66,"h":0.38},{"p":"d","v":"x2","x":0.69,"h":0.6},{"p":"d","v":"x2","x":0.72,"h":0.67},{"p":"d","v":"x2","x":0.75,"h":0.63},{"p":"d","v":"x2","x":0.78,"h":0.6},{"p":"d","v":"x2","x":0.82,"h":0.66},{"p":"d","v":"x2","x":0.86,"h":0.85},{"p":"d","v":"x2","x":0.9,"h":1.0},{"p":"d","v":"x2","x":0.93,"h":0.97},{"p":"d","v":"x2","x":0.96,"h":0.85},{"p":"d","v":"x2","x":1.0,"h":0.6},{"p":"d","v":"x2","x":1.03,"h":0.35},{"p":"d","v":"x2","x":1.06,"h":0.15},{"p":"d","v":"x2","x":1.1,"h":0.03},{"p":"d","v":"x2","x":1.15,"h":0},{"p":"d","v":"x2","x":1.2,"h":0},
{"p":"f","v":"x1","x":-0.2,"h":0},{"p":"f","v":"x1","x":0.1,"h":0.01},{"p":"f","v":"x1","x":0.2,"h":0.03},{"p":"f","v":"x1","x":0.3,"h":0.07},{"p":"f","v":"x1","x":0.35,"h":0.11},{"p":"f","v":"x1","x":0.4,"h":0.16},{"p":"f","v":"x1","x":0.45,"h":0.22},{"p":"f","v":"x1","x":0.5,"h":0.28},{"p":"f","v":"x1","x":0.55,"h":0.36},{"p":"f","v":"x1","x":0.6,"h":0.48},{"p":"f","v":"x1","x":0.65,"h":0.7},{"p":"f","v":"x1","x":0.7,"h":0.85},{"p":"f","v":"x1","x":0.75,"h":0.9},{"p":"f","v":"x1","x":0.8,"h":0.9},{"p":"f","v":"x1","x":0.85,"h":0.92},{"p":"f","v":"x1","x":0.9,"h":0.98},{"p":"f","v":"x1","x":0.93,"h":1.0},{"p":"f","v":"x1","x":0.96,"h":0.93},{"p":"f","v":"x1","x":1.0,"h":0.65},{"p":"f","v":"x1","x":1.03,"h":0.4},{"p":"f","v":"x1","x":1.06,"h":0.2},{"p":"f","v":"x1","x":1.1,"h":0.07},{"p":"f","v":"x1","x":1.15,"h":0.02},{"p":"f","v":"x1","x":1.2,"h":0},
{"p":"f","v":"x2","x":-0.2,"h":0},{"p":"f","v":"x2","x":-0.12,"h":0.01},{"p":"f","v":"x2","x":-0.07,"h":0.08},{"p":"f","v":"x2","x":-0.03,"h":0.3},{"p":"f","v":"x2","x":0,"h":0.55},{"p":"f","v":"x2","x":0.03,"h":0.85},{"p":"f","v":"x2","x":0.07,"h":1.0},{"p":"f","v":"x2","x":0.1,"h":0.95},{"p":"f","v":"x2","x":0.13,"h":0.82},{"p":"f","v":"x2","x":0.16,"h":0.68},{"p":"f","v":"x2","x":0.2,"h":0.59},{"p":"f","v":"x2","x":0.25,"h":0.54},{"p":"f","v":"x2","x":0.3,"h":0.48},{"p":"f","v":"x2","x":0.35,"h":0.4},{"p":"f","v":"x2","x":0.4,"h":0.33},{"p":"f","v":"x2","x":0.45,"h":0.29},{"p":"f","v":"x2","x":0.5,"h":0.22},{"p":"f","v":"x2","x":0.55,"h":0.11},{"p":"f","v":"x2","x":0.6,"h":0.03},{"p":"f","v":"x2","x":0.65,"h":0},{"p":"f","v":"x2","x":1.2,"h":0},
{"p":"g","v":"x1","x":-0.2,"h":0},{"p":"g","v":"x1","x":-0.13,"h":0.03},{"p":"g","v":"x1","x":-0.07,"h":0.13},{"p":"g","v":"x1","x":0,"h":0.3},{"p":"g","v":"x1","x":0.05,"h":0.45},{"p":"g","v":"x1","x":0.1,"h":0.62},{"p":"g","v":"x1","x":0.15,"h":0.77},{"p":"g","v":"x1","x":0.2,"h":0.89},{"p":"g","v":"x1","x":0.25,"h":0.97},{"p":"g","v":"x1","x":0.3,"h":1.0},{"p":"g","v":"x1","x":0.35,"h":0.99},{"p":"g","v":"x1","x":0.4,"h":0.96},{"p":"g","v":"x1","x":0.5,"h":0.93},{"p":"g","v":"x1","x":0.6,"h":0.9},{"p":"g","v":"x1","x":0.7,"h":0.85},{"p":"g","v":"x1","x":0.75,"h":0.8},{"p":"g","v":"x1","x":0.8,"h":0.72},{"p":"g","v":"x1","x":0.85,"h":0.62},{"p":"g","v":"x1","x":0.9,"h":0.5},{"p":"g","v":"x1","x":0.95,"h":0.37},{"p":"g","v":"x1","x":1.0,"h":0.24},{"p":"g","v":"x1","x":1.05,"h":0.13},{"p":"g","v":"x1","x":1.1,"h":0.05},{"p":"g","v":"x1","x":1.15,"h":0.02},{"p":"g","v":"x1","x":1.2,"h":0.01},
{"p":"g","v":"x2","x":-0.2,"h":0},{"p":"g","v":"x2","x":-0.11,"h":0.03},{"p":"g","v":"x2","x":-0.05,"h":0.12},{"p":"g","v":"x2","x":0,"h":0.27},{"p":"g","v":"x2","x":0.04,"h":0.43},{"p":"g","v":"x2","x":0.08,"h":0.55},{"p":"g","v":"x2","x":0.12,"h":0.63},{"p":"g","v":"x2","x":0.2,"h":0.76},{"p":"g","v":"x2","x":0.27,"h":0.86},{"p":"g","v":"x2","x":0.33,"h":0.95},{"p":"g","v":"x2","x":0.38,"h":1.0},{"p":"g","v":"x2","x":0.42,"h":0.99},{"p":"g","v":"x2","x":0.48,"h":0.92},{"p":"g","v":"x2","x":0.55,"h":0.85},{"p":"g","v":"x2","x":0.6,"h":0.8},{"p":"g","v":"x2","x":0.7,"h":0.7},{"p":"g","v":"x2","x":0.8,"h":0.62},{"p":"g","v":"x2","x":0.87,"h":0.56},{"p":"g","v":"x2","x":0.92,"h":0.47},{"p":"g","v":"x2","x":0.96,"h":0.35},{"p":"g","v":"x2","x":1.0,"h":0.23},{"p":"g","v":"x2","x":1.05,"h":0.11},{"p":"g","v":"x2","x":1.1,"h":0.04},{"p":"g","v":"x2","x":1.15,"h":0.01},{"p":"g","v":"x2","x":1.2,"h":0},
{"p":"h","v":"x1","x":-0.2,"h":0},{"p":"h","v":"x1","x":-0.13,"h":0.04},{"p":"h","v":"x1","x":-0.07,"h":0.26},{"p":"h","v":"x1","x":-0.03,"h":0.5},{"p":"h","v":"x1","x":0,"h":0.7},{"p":"h","v":"x1","x":0.04,"h":0.9},{"p":"h","v":"x1","x":0.09,"h":1.0},{"p":"h","v":"x1","x":0.15,"h":0.97},{"p":"h","v":"x1","x":0.2,"h":0.9},{"p":"h","v":"x1","x":0.25,"h":0.83},{"p":"h","v":"x1","x":0.32,"h":0.77},{"p":"h","v":"x1","x":0.4,"h":0.66},{"p":"h","v":"x1","x":0.45,"h":0.56},{"p":"h","v":"x1","x":0.5,"h":0.46},{"p":"h","v":"x1","x":0.55,"h":0.35},{"p":"h","v":"x1","x":0.6,"h":0.24},{"p":"h","v":"x1","x":0.65,"h":0.11},{"p":"h","v":"x1","x":0.7,"h":0.04},{"p":"h","v":"x1","x":0.76,"h":0.01},{"p":"h","v":"x1","x":0.85,"h":0},{"p":"h","v":"x1","x":1.2,"h":0},
{"p":"h","v":"x2","x":-0.2,"h":0},{"p":"h","v":"x2","x":0.1,"h":0},{"p":"h","v":"x2","x":0.2,"h":0.01},{"p":"h","v":"x2","x":0.3,"h":0.05},{"p":"h","v":"x2","x":0.4,"h":0.12},{"p":"h","v":"x2","x":0.5,"h":0.15},{"p":"h","v":"x2","x":0.55,"h":0.22},{"p":"h","v":"x2","x":0.6,"h":0.33},{"p":"h","v":"x2","x":0.66,"h":0.45},{"p":"h","v":"x2","x":0.72,"h":0.49},{"p":"h","v":"x2","x":0.78,"h":0.55},{"p":"h","v":"x2","x":0.82,"h":0.72},{"p":"h","v":"x2","x":0.86,"h":0.92},{"p":"h","v":"x2","x":0.9,"h":1.0},{"p":"h","v":"x2","x":0.93,"h":0.97},{"p":"h","v":"x2","x":0.96,"h":0.85},{"p":"h","v":"x2","x":1.0,"h":0.58},{"p":"h","v":"x2","x":1.04,"h":0.28},{"p":"h","v":"x2","x":1.08,"h":0.1},{"p":"h","v":"x2","x":1.12,"h":0.02},{"p":"h","v":"x2","x":1.2,"h":0}
]
},
"spacing": 33,
"resolve": {"scale": {"color": "independent"}, "legend": {"color": "independent"}},
"hconcat": [
 {
  "spacing": 0,
  "resolve": {"scale": {"color": "independent"}, "legend": {"color": "independent"}},
  "vconcat": [
   {"width": 10, "height": 1, "data": {"values": []}, "mark": "point"},
   {
    "spacing": 213,
    "resolve": {"scale": {"color": "independent"}, "legend": {"color": "independent"}},
    "vconcat": [
     {
      "title": {"text": "a)", "anchor": "start", "font": "Liberation Sans", "fontSize": 42, "fontWeight": "normal", "dx": 40, "offset": 13, "color": "black"},
      "vconcat": [
       {
        "data": {"name": "pts"},
        "width": 433, "height": 297,
        "view": {"stroke": "black", "strokeWidth": 1.2},
        "title": {"text": "Uniform data for clustering 1", "font": "DejaVu Sans", "fontSize": 24.7, "fontWeight": "normal", "anchor": "middle", "frame": "group", "offset": 1, "color": "black"},
        "mark": {"type": "circle", "size": 70, "opacity": 1, "stroke": "black", "strokeWidth": 0.8},
        "encoding": {
         "x": {"field": "x1", "type": "quantitative", "scale": {"domain": [-0.045, 1.048], "nice": false, "zero": false},
               "axis": {"values": [0, 0.333333, 0.666667, 1], "labelExpr": "datum.value < 0.1 ? '0' : datum.value < 0.5 ? '1/3' : datum.value < 0.9 ? '2/3' : '1'", "labelFontSize": 24, "tickSize": 5, "tickColor": "black", "tickWidth": 1, "domain": false, "labelPadding": 1, "labelFlush": false, "title": "x₁", "titleFontSize": 24, "titleFontStyle": "italic", "titlePadding": 6}},
         "y": {"field": "x2", "type": "quantitative", "scale": {"domain": [-0.052, 1.052], "nice": false, "zero": false},
               "axis": {"values": [0, 0.333333, 0.666667, 1], "labelExpr": "datum.value < 0.1 ? '0' : datum.value < 0.5 ? '1/3' : datum.value < 0.9 ? '2/3' : '1'", "labelFontSize": 24, "tickSize": 5, "tickColor": "black", "tickWidth": 1, "domain": false, "labelPadding": 4, "title": "x₂", "titleFontSize": 24, "titleFontStyle": "italic", "titlePadding": 7}},
         "color": {"field": "c1", "type": "nominal", "scale": {"domain": [1, 2, 3], "range": ["#440154", "#21918c", "#fde725"]},
                   "legend": {"title": "Clusters", "orient": "none", "legendX": 49, "legendY": 370, "direction": "horizontal", "titleAnchor": "middle", "titleFontSize": 23, "titleFontWeight": "normal", "titlePadding": 11, "labelFontSize": 24, "labelOffset": 30, "columnPadding": 57, "symbolSize": 30, "symbolType": "circle", "symbolStrokeWidth": 0, "symbolOpacity": 1, "padding": 10, "strokeColor": "#cccccc", "cornerRadius": 5, "fillColor": "white"}}
        }
       }
      ]
     },
     {
      "title": {"text": "e)", "anchor": "start", "font": "Liberation Sans", "fontSize": 42, "fontWeight": "normal", "dx": 40, "offset": 13, "color": "black"},
      "vconcat": [
       {
        "data": {"name": "pts"},
        "width": 433, "height": 297,
        "view": {"stroke": "black", "strokeWidth": 1.2},
        "title": {"text": "Uniform data for clustering 2", "font": "DejaVu Sans", "fontSize": 24.7, "fontWeight": "normal", "anchor": "middle", "frame": "group", "offset": 1, "color": "black"},
        "mark": {"type": "circle", "size": 70, "opacity": 1, "stroke": "black", "strokeWidth": 0.8},
        "encoding": {
         "x": {"field": "x1", "type": "quantitative", "scale": {"domain": [-0.045, 1.048], "nice": false, "zero": false},
               "axis": {"values": [0, 0.333333, 0.666667, 1], "labelExpr": "datum.value < 0.1 ? '0' : datum.value < 0.5 ? '1/3' : datum.value < 0.9 ? '2/3' : '1'", "labelFontSize": 24, "tickSize": 5, "tickColor": "black", "tickWidth": 1, "domain": false, "labelPadding": 1, "labelFlush": false, "title": "x₁", "titleFontSize": 24, "titleFontStyle": "italic", "titlePadding": 6}},
         "y": {"field": "x2", "type": "quantitative", "scale": {"domain": [-0.052, 1.052], "nice": false, "zero": false},
               "axis": {"values": [0, 0.333333, 0.666667, 1], "labelExpr": "datum.value < 0.1 ? '0' : datum.value < 0.5 ? '1/3' : datum.value < 0.9 ? '2/3' : '1'", "labelFontSize": 24, "tickSize": 5, "tickColor": "black", "tickWidth": 1, "domain": false, "labelPadding": 4, "title": "x₂", "titleFontSize": 24, "titleFontStyle": "italic", "titlePadding": 7}},
         "color": {"field": "c2", "type": "nominal", "scale": {"domain": [1, 2, 3], "range": ["#440154", "#21918c", "#fde725"]},
                   "legend": {"title": "Clusters", "orient": "none", "legendX": 49, "legendY": 370, "direction": "horizontal", "titleAnchor": "middle", "titleFontSize": 23, "titleFontWeight": "normal", "titlePadding": 11, "labelFontSize": 24, "labelOffset": 30, "columnPadding": 57, "symbolSize": 30, "symbolType": "circle", "symbolStrokeWidth": 0, "symbolOpacity": 1, "padding": 10, "strokeColor": "#cccccc", "cornerRadius": 5, "fillColor": "white"}}
        }
       }
      ]
     }
    ]
   }
  ]
 },
 {
  "spacing": 63,
  "vconcat": [
   {
    "spacing": 14.5,
    "vconcat": [
     {
      "width": 418, "height": 91, "data": {"name": "ridge"}, "transform": [{"filter": "datum.p == 'b'"}],
      "resolve": {"axis": {"x": "independent", "y": "independent"}},
      "layer": [
       {"transform": [{"filter": "datum.v == 'x1'"}], "mark": {"type": "area", "color": "#4dffff", "opacity": 1, "interpolate": "monotone", "yOffset": -38.2, "y2Offset": -38.2},
        "encoding": {"x": {"field": "x", "type": "quantitative", "scale": {"domain": [-0.2, 1.2], "nice": false, "zero": false}, "axis": {"values": [0, 0.2, 0.4, 0.6, 0.8, 1], "format": ".1f", "title": "Parameter values", "titleFontSize": 22, "labelFontSize": 21, "tickSize": 4, "tickColor": "#b0b0b0", "domain": false, "labelPadding": 7, "titlePadding": 3, "labelFlush": false}},
                     "y": {"field": "h", "type": "quantitative", "scale": {"domain": [0, 1.857], "nice": false, "zero": false}, "axis": {"values": [0, 0.78], "labelExpr": "datum.value > 0.5 ? 'x₁' : 'x₂'", "labelFontSize": 24, "labelFontStyle": "italic", "ticks": false, "domain": false, "labelPadding": 13, "labelOffset": 3, "title": "b)", "titleAngle": 0, "titleFont": "Liberation Sans", "titleFontSize": 42, "titleFontWeight": "normal", "titleAlign": "left", "titleBaseline": "middle", "titleX": -84, "titleY": -44.5}},
                     "y2": {"datum": 0}}},
       {"transform": [{"filter": "datum.v == 'x2'"}], "mark": {"type": "area", "color": "#ff00ff", "opacity": 1, "interpolate": "monotone"},
        "encoding": {"x": {"field": "x", "type": "quantitative", "scale": {"domain": [-0.2, 1.2], "nice": false, "zero": false}, "axis": {"orient": "top", "title": "Cluster 1 Ridgeline plot", "titleFont": "Liberation Sans", "titleFontSize": 31.5, "titleFontWeight": "normal", "titlePadding": 21, "titleX": 191, "titleAlign": "center", "labels": false, "ticks": false, "domain": false}},
                     "y": {"field": "h", "type": "quantitative", "axis": null}, "y2": {"datum": 0}}},
       {"transform": [{"filter": "datum.v == 'x1'"}], "mark": {"type": "line", "color": "#1a4c4c", "strokeWidth": 2.6, "interpolate": "monotone", "yOffset": -38.2},
        "encoding": {"x": {"field": "x", "type": "quantitative", "axis": null}, "y": {"field": "h", "type": "quantitative", "axis": null}}},
       {"transform": [{"filter": "datum.v == 'x2'"}], "mark": {"type": "line", "color": "black", "strokeWidth": 2.6, "interpolate": "monotone"},
        "encoding": {"x": {"field": "x", "type": "quantitative", "axis": null}, "y": {"field": "h", "type": "quantitative", "axis": null}}}
      ]
     },
     {
      "width": 418, "height": 91, "data": {"name": "ridge"}, "transform": [{"filter": "datum.p == 'c'"}],
      "resolve": {"axis": {"x": "independent", "y": "independent"}},
      "layer": [
       {"transform": [{"filter": "datum.v == 'x1'"}], "mark": {"type": "area", "color": "#4dffff", "opacity": 1, "interpolate": "monotone", "yOffset": -38.2, "y2Offset": -38.2},
        "encoding": {"x": {"field": "x", "type": "quantitative", "scale": {"domain": [-0.2, 1.2], "nice": false, "zero": false}, "axis": {"values": [0, 0.2, 0.4, 0.6, 0.8, 1], "format": ".1f", "title": "Parameter values", "titleFontSize": 22, "labelFontSize": 21, "tickSize": 4, "tickColor": "#b0b0b0", "domain": false, "labelPadding": 7, "titlePadding": 3, "labelFlush": false}},
                     "y": {"field": "h", "type": "quantitative", "scale": {"domain": [0, 1.857], "nice": false, "zero": false}, "axis": {"values": [0, 0.78], "labelExpr": "datum.value > 0.5 ? 'x₁' : 'x₂'", "labelFontSize": 24, "labelFontStyle": "italic", "ticks": false, "domain": false, "labelPadding": 13, "labelOffset": 3, "title": "c)", "titleAngle": 0, "titleFont": "Liberation Sans", "titleFontSize": 42, "titleFontWeight": "normal", "titleAlign": "left", "titleBaseline": "middle", "titleX": -80, "titleY": -44.5}},
                     "y2": {"datum": 0}}},
       {"transform": [{"filter": "datum.v == 'x2'"}], "mark": {"type": "area", "color": "#ff00ff", "opacity": 1, "interpolate": "monotone"},
        "encoding": {"x": {"field": "x", "type": "quantitative", "scale": {"domain": [-0.2, 1.2], "nice": false, "zero": false}, "axis": {"orient": "top", "title": "Cluster 2 Ridgeline plot", "titleFont": "Liberation Sans", "titleFontSize": 31.5, "titleFontWeight": "normal", "titlePadding": 6, "titleX": 191, "titleAlign": "center", "labels": false, "ticks": false, "domain": false}},
                     "y": {"field": "h", "type": "quantitative", "axis": null}, "y2": {"datum": 0}}},
       {"transform": [{"filter": "datum.v == 'x1'"}], "mark": {"type": "line", "color": "#1a4c4c", "strokeWidth": 2.6, "interpolate": "monotone", "yOffset": -38.2},
        "encoding": {"x": {"field": "x", "type": "quantitative", "axis": null}, "y": {"field": "h", "type": "quantitative", "axis": null}}},
       {"transform": [{"filter": "datum.v == 'x2'"}], "mark": {"type": "line", "color": "black", "strokeWidth": 2.6, "interpolate": "monotone"},
        "encoding": {"x": {"field": "x", "type": "quantitative", "axis": null}, "y": {"field": "h", "type": "quantitative", "axis": null}}}
      ]
     },
     {
      "width": 418, "height": 91, "data": {"name": "ridge"}, "transform": [{"filter": "datum.p == 'd'"}],
      "resolve": {"axis": {"x": "independent", "y": "independent"}},
      "layer": [
       {"transform": [{"filter": "datum.v == 'x1'"}], "mark": {"type": "area", "color": "#4dffff", "opacity": 1, "interpolate": "monotone", "yOffset": -38.2, "y2Offset": -38.2},
        "encoding": {"x": {"field": "x", "type": "quantitative", "scale": {"domain": [-0.2, 1.2], "nice": false, "zero": false}, "axis": {"values": [0, 0.2, 0.4, 0.6, 0.8, 1], "format": ".1f", "title": "Parameter values", "titleFontSize": 22, "labelFontSize": 21, "tickSize": 4, "tickColor": "#b0b0b0", "domain": false, "labelPadding": 7, "titlePadding": 3, "labelFlush": false}},
                     "y": {"field": "h", "type": "quantitative", "scale": {"domain": [0, 1.857], "nice": false, "zero": false}, "axis": {"values": [0, 0.78], "labelExpr": "datum.value > 0.5 ? 'x₁' : 'x₂'", "labelFontSize": 24, "labelFontStyle": "italic", "ticks": false, "domain": false, "labelPadding": 13, "labelOffset": 3, "title": "d)", "titleAngle": 0, "titleFont": "Liberation Sans", "titleFontSize": 42, "titleFontWeight": "normal", "titleAlign": "left", "titleBaseline": "middle", "titleX": -80, "titleY": -55.5}},
                     "y2": {"datum": 0}}},
       {"transform": [{"filter": "datum.v == 'x2'"}], "mark": {"type": "area", "color": "#ff00ff", "opacity": 1, "interpolate": "monotone"},
        "encoding": {"x": {"field": "x", "type": "quantitative", "scale": {"domain": [-0.2, 1.2], "nice": false, "zero": false}, "axis": {"orient": "top", "title": "Cluster 3 Ridgeline plot", "titleFont": "Liberation Sans", "titleFontSize": 31.5, "titleFontWeight": "normal", "titlePadding": 16, "titleX": 191, "titleAlign": "center", "labels": false, "ticks": false, "domain": false}},
                     "y": {"field": "h", "type": "quantitative", "axis": null}, "y2": {"datum": 0}}},
       {"transform": [{"filter": "datum.v == 'x1'"}], "mark": {"type": "line", "color": "#1a4c4c", "strokeWidth": 2.6, "interpolate": "monotone", "yOffset": -38.2},
        "encoding": {"x": {"field": "x", "type": "quantitative", "axis": null}, "y": {"field": "h", "type": "quantitative", "axis": null}}},
       {"transform": [{"filter": "datum.v == 'x2'"}], "mark": {"type": "line", "color": "black", "strokeWidth": 2.6, "interpolate": "monotone"},
        "encoding": {"x": {"field": "x", "type": "quantitative", "axis": null}, "y": {"field": "h", "type": "quantitative", "axis": null}}}
      ]
     }
    ]
   },
   {
    "spacing": 14,
    "vconcat": [
     {
      "width": 418, "height": 91, "data": {"name": "ridge"}, "transform": [{"filter": "datum.p == 'f'"}],
      "resolve": {"axis": {"x": "independent", "y": "independent"}},
      "layer": [
       {"transform": [{"filter": "datum.v == 'x1'"}], "mark": {"type": "area", "color": "#4dffff", "opacity": 1, "interpolate": "monotone", "yOffset": -38.2, "y2Offset": -38.2},
        "encoding": {"x": {"field": "x", "type": "quantitative", "scale": {"domain": [-0.2, 1.2], "nice": false, "zero": false}, "axis": {"values": [0, 0.2, 0.4, 0.6, 0.8, 1], "format": ".1f", "title": "Parameter values", "titleFontSize": 22, "labelFontSize": 21, "tickSize": 4, "tickColor": "#b0b0b0", "domain": false, "labelPadding": 7, "titlePadding": 3, "labelFlush": false}},
                     "y": {"field": "h", "type": "quantitative", "scale": {"domain": [0, 1.857], "nice": false, "zero": false}, "axis": {"values": [0, 0.78], "labelExpr": "datum.value > 0.5 ? 'x₁' : 'x₂'", "labelFontSize": 24, "labelFontStyle": "italic", "ticks": false, "domain": false, "labelPadding": 13, "labelOffset": 3, "title": "f)", "titleAngle": 0, "titleFont": "Liberation Sans", "titleFontSize": 42, "titleFontWeight": "normal", "titleAlign": "left", "titleBaseline": "middle", "titleX": -83, "titleY": -45.5}},
                     "y2": {"datum": 0}}},
       {"transform": [{"filter": "datum.v == 'x2'"}], "mark": {"type": "area", "color": "#ff00ff", "opacity": 1, "interpolate": "monotone"},
        "encoding": {"x": {"field": "x", "type": "quantitative", "scale": {"domain": [-0.2, 1.2], "nice": false, "zero": false}, "axis": {"orient": "top", "title": "Cluster 1 Ridgeline plot", "titleFont": "Liberation Sans", "titleFontSize": 31.5, "titleFontWeight": "normal", "titlePadding": 21, "titleX": 191, "titleAlign": "center", "labels": false, "ticks": false, "domain": false}},
                     "y": {"field": "h", "type": "quantitative", "axis": null}, "y2": {"datum": 0}}},
       {"transform": [{"filter": "datum.v == 'x1'"}], "mark": {"type": "line", "color": "#1a4c4c", "strokeWidth": 2.6, "interpolate": "monotone", "yOffset": -38.2},
        "encoding": {"x": {"field": "x", "type": "quantitative", "axis": null}, "y": {"field": "h", "type": "quantitative", "axis": null}}},
       {"transform": [{"filter": "datum.v == 'x2'"}], "mark": {"type": "line", "color": "black", "strokeWidth": 2.6, "interpolate": "monotone"},
        "encoding": {"x": {"field": "x", "type": "quantitative", "axis": null}, "y": {"field": "h", "type": "quantitative", "axis": null}}}
      ]
     },
     {
      "width": 418, "height": 91, "data": {"name": "ridge"}, "transform": [{"filter": "datum.p == 'g'"}],
      "resolve": {"axis": {"x": "independent", "y": "independent"}},
      "layer": [
       {"transform": [{"filter": "datum.v == 'x1'"}], "mark": {"type": "area", "color": "#4dffff", "opacity": 1, "interpolate": "monotone", "yOffset": -38.2, "y2Offset": -38.2},
        "encoding": {"x": {"field": "x", "type": "quantitative", "scale": {"domain": [-0.2, 1.2], "nice": false, "zero": false}, "axis": {"values": [0, 0.2, 0.4, 0.6, 0.8, 1], "format": ".1f", "title": "Parameter values", "titleFontSize": 22, "labelFontSize": 21, "tickSize": 4, "tickColor": "#b0b0b0", "domain": false, "labelPadding": 7, "titlePadding": 3, "labelFlush": false}},
                     "y": {"field": "h", "type": "quantitative", "scale": {"domain": [0, 1.857], "nice": false, "zero": false}, "axis": {"values": [0, 0.78], "labelExpr": "datum.value > 0.5 ? 'x₁' : 'x₂'", "labelFontSize": 24, "labelFontStyle": "italic", "ticks": false, "domain": false, "labelPadding": 13, "labelOffset": 3, "title": "g)", "titleAngle": 0, "titleFont": "Liberation Sans", "titleFontSize": 42, "titleFontWeight": "normal", "titleAlign": "left", "titleBaseline": "middle", "titleX": -81, "titleY": -46}},
                     "y2": {"datum": 0}}},
       {"transform": [{"filter": "datum.v == 'x2'"}], "mark": {"type": "area", "color": "#ff00ff", "opacity": 1, "interpolate": "monotone"},
        "encoding": {"x": {"field": "x", "type": "quantitative", "scale": {"domain": [-0.2, 1.2], "nice": false, "zero": false}, "axis": {"orient": "top", "title": "Cluster 2 Ridgeline plot", "titleFont": "Liberation Sans", "titleFontSize": 31.5, "titleFontWeight": "normal", "titlePadding": 6, "titleX": 191, "titleAlign": "center", "labels": false, "ticks": false, "domain": false}},
                     "y": {"field": "h", "type": "quantitative", "axis": null}, "y2": {"datum": 0}}},
       {"transform": [{"filter": "datum.v == 'x1'"}], "mark": {"type": "line", "color": "#1a4c4c", "strokeWidth": 2.6, "interpolate": "monotone", "yOffset": -38.2},
        "encoding": {"x": {"field": "x", "type": "quantitative", "axis": null}, "y": {"field": "h", "type": "quantitative", "axis": null}}},
       {"transform": [{"filter": "datum.v == 'x2'"}], "mark": {"type": "line", "color": "black", "strokeWidth": 2.6, "interpolate": "monotone"},
        "encoding": {"x": {"field": "x", "type": "quantitative", "axis": null}, "y": {"field": "h", "type": "quantitative", "axis": null}}}
      ]
     },
     {
      "width": 418, "height": 91, "data": {"name": "ridge"}, "transform": [{"filter": "datum.p == 'h'"}],
      "resolve": {"axis": {"x": "independent", "y": "independent"}},
      "layer": [
       {"transform": [{"filter": "datum.v == 'x1'"}], "mark": {"type": "area", "color": "#4dffff", "opacity": 1, "interpolate": "monotone", "yOffset": -38.2, "y2Offset": -38.2},
        "encoding": {"x": {"field": "x", "type": "quantitative", "scale": {"domain": [-0.2, 1.2], "nice": false, "zero": false}, "axis": {"values": [0, 0.2, 0.4, 0.6, 0.8, 1], "format": ".1f", "title": "Parameter values", "titleFontSize": 22, "labelFontSize": 21, "tickSize": 4, "tickColor": "#b0b0b0", "domain": false, "labelPadding": 7, "titlePadding": 3, "labelFlush": false}},
                     "y": {"field": "h", "type": "quantitative", "scale": {"domain": [0, 1.857], "nice": false, "zero": false}, "axis": {"values": [0, 0.78], "labelExpr": "datum.value > 0.5 ? 'x₁' : 'x₂'", "labelFontSize": 24, "labelFontStyle": "italic", "ticks": false, "domain": false, "labelPadding": 13, "labelOffset": 3, "title": "h)", "titleAngle": 0, "titleFont": "Liberation Sans", "titleFontSize": 42, "titleFontWeight": "normal", "titleAlign": "left", "titleBaseline": "middle", "titleX": -81, "titleY": -56.5}},
                     "y2": {"datum": 0}}},
       {"transform": [{"filter": "datum.v == 'x2'"}], "mark": {"type": "area", "color": "#ff00ff", "opacity": 1, "interpolate": "monotone"},
        "encoding": {"x": {"field": "x", "type": "quantitative", "scale": {"domain": [-0.2, 1.2], "nice": false, "zero": false}, "axis": {"orient": "top", "title": "Cluster 3 Ridgeline plot", "titleFont": "Liberation Sans", "titleFontSize": 31.5, "titleFontWeight": "normal", "titlePadding": 16, "titleX": 191, "titleAlign": "center", "labels": false, "ticks": false, "domain": false}},
                     "y": {"field": "h", "type": "quantitative", "axis": null}, "y2": {"datum": 0}}},
       {"transform": [{"filter": "datum.v == 'x1'"}], "mark": {"type": "line", "color": "#1a4c4c", "strokeWidth": 2.6, "interpolate": "monotone", "yOffset": -38.2},
        "encoding": {"x": {"field": "x", "type": "quantitative", "axis": null}, "y": {"field": "h", "type": "quantitative", "axis": null}}},
       {"transform": [{"filter": "datum.v == 'x2'"}], "mark": {"type": "line", "color": "black", "strokeWidth": 2.6, "interpolate": "monotone"},
        "encoding": {"x": {"field": "x", "type": "quantitative", "axis": null}, "y": {"field": "h", "type": "quantitative", "axis": null}}}
      ]
     }
    ]
   }
  ]
 }
]
}
